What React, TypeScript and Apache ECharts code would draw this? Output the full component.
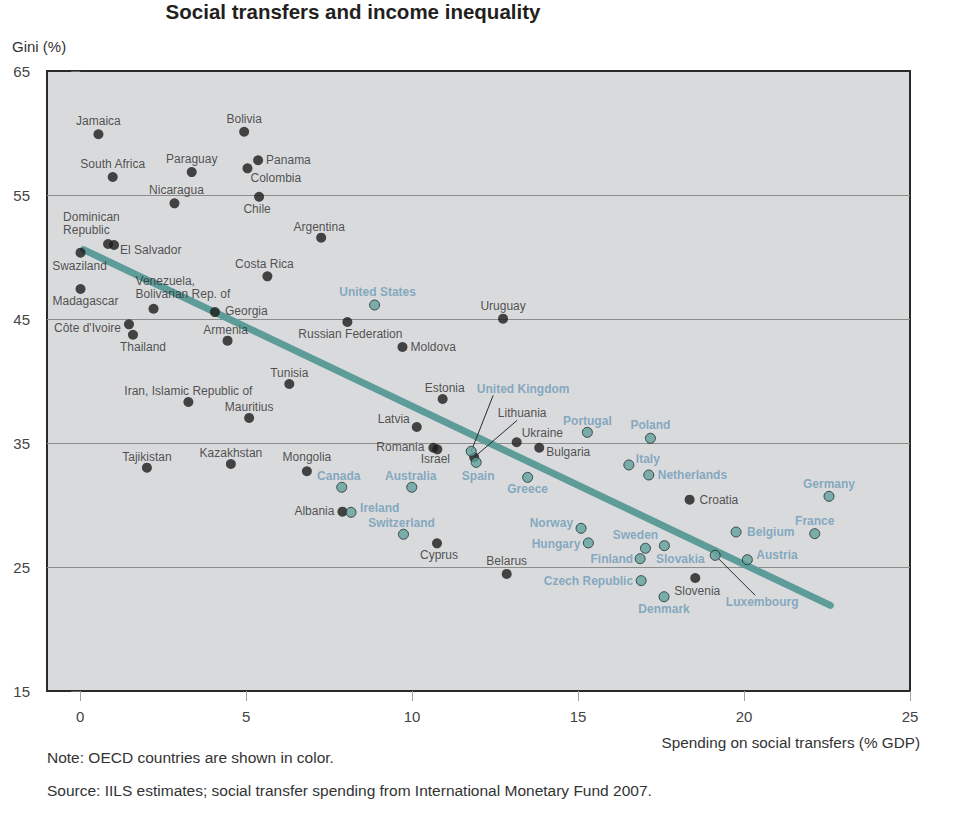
import React, { useEffect, useRef } from "react";
import * as echarts from "echarts";

// Non-OECD countries
const otherNames = [
  "Jamaica", "Bolivia", "South Africa", "Paraguay", "Panama", "Colombia", "Nicaragua", "Chile",
  "Dominican\nRepublic", "El Salvador", "Argentina", "Swaziland", "Costa Rica", "Madagascar",
  "Venezuela,\nBolivarian Rep. of", "Georgia", "Côte d'Ivoire", "Thailand", "Armenia",
  "Russian Federation", "Uruguay", "Moldova", "Tunisia", "Estonia", "Iran, Islamic Republic of",
  "Mauritius", "Latvia", "Tajikistan", "Kazakhstan", "Mongolia", "Albania", "Romania", "Israel",
  "Lithuania", "Ukraine", "Bulgaria", "Cyprus", "Belarus", "Croatia", "Slovenia",
];
const otherX = [
  0.55, 4.94, 0.98, 3.36, 5.36, 5.04, 2.84, 5.39,
  0.84, 1.02, 7.26, 0.01, 5.64, 0.01,
  2.21, 4.06, 1.47, 1.59, 4.44,
  8.05, 12.74, 9.71, 6.30, 10.92, 3.26,
  5.09, 10.14, 2.01, 4.54, 6.83, 7.90, 10.64, 10.76,
  11.87, 13.15, 13.83, 10.75, 12.85, 18.36, 18.53,
];
const otherY = [
  59.9, 60.1, 56.45, 56.85, 57.8, 57.15, 54.33, 54.86,
  51.05, 50.97, 51.56, 50.35, 48.44, 47.42,
  45.83, 45.56, 44.57, 43.73, 43.25,
  44.76, 45.03, 42.74, 39.76, 38.55, 38.31,
  37.02, 36.29, 33.01, 33.31, 32.72, 29.46, 34.62, 34.49,
  33.85, 35.06, 34.62, 26.91, 24.44, 30.43, 24.11,
];

// OECD countries
const oecdNames = [
  "United States", "United Kingdom", "Spain", "Canada", "Australia", "Ireland", "Switzerland",
  "Portugal", "Poland", "Italy", "Netherlands", "Greece", "Norway", "Hungary", "Sweden",
  "Finland", "Slovakia", "Czech Republic", "Denmark", "Luxembourg", "Austria", "Belgium",
  "France", "Germany",
];
const oecdX = [
  8.87, 11.78, 11.93, 7.88, 9.99, 8.16, 9.74,
  15.28, 17.18, 16.53, 17.13, 13.48, 15.09, 15.31, 17.03,
  16.87, 17.60, 16.90, 17.59, 19.13, 20.10, 19.76,
  22.13, 22.56,
];
const oecdY = [
  46.13, 34.33, 33.44, 31.43, 31.43, 29.41, 27.64,
  35.86, 35.38, 33.23, 32.42, 32.23, 28.12, 26.94, 26.51,
  25.67, 26.72, 23.90, 22.60, 25.94, 25.59, 27.82,
  27.69, 30.70,
];

// Fitted line endpoints
const trendX = [0.1, 22.6];
const trendY = [50.6, 21.9];

// Axis ticks
const xTicks = [0, 5, 10, 15, 20, 25];
const yTicks = [15, 25, 35, 45, 55, 65];
const yGridLines = [25, 35, 45, 55];

// Label placement relative to the dot centre: [dx, dy, align]
const labelPlace: Record<string, [number, number, string]> = {
  "Jamaica": [0, -13, "center"],
  "Bolivia": [0, -13, "center"],
  "South Africa": [0, -13, "center"],
  "Paraguay": [0, -13, "center"],
  "Panama": [8, 0, "left"],
  "Colombia": [3, 10, "left"],
  "Nicaragua": [2, -13, "center"],
  "Chile": [-2, 12, "center"],
  "Dominican\nRepublic": [-45, -20, "left"],
  "El Salvador": [6, 5, "left"],
  "Argentina": [-2, -11, "center"],
  "Swaziland": [-1, 13, "center"],
  "Costa Rica": [-3, -12, "center"],
  "Madagascar": [5, 12, "center"],
  "Venezuela,\nBolivarian Rep. of": [-18, -21, "left"],
  "Georgia": [10, -1, "left"],
  "Côte d'Ivoire": [-8, 4, "right"],
  "Thailand": [10, 12, "center"],
  "Armenia": [-2, -11, "center"],
  "Russian Federation": [3, 12, "center"],
  "Uruguay": [0, -13, "center"],
  "Moldova": [8, 0, "left"],
  "Tunisia": [0, -11, "center"],
  "Estonia": [2, -11, "center"],
  "Iran, Islamic Republic of": [0, -11, "center"],
  "Mauritius": [0, -11, "center"],
  "Latvia": [-7, -8, "right"],
  "Tajikistan": [0, -11, "center"],
  "Kazakhstan": [0, -11, "center"],
  "Mongolia": [0, -14, "center"],
  "Albania": [-8, -1, "right"],
  "Romania": [-9, -1, "right"],
  "Israel": [-2, 10, "center"],
  "Lithuania": [48, -44, "center"],
  "Ukraine": [5, -9, "left"],
  "Bulgaria": [7, 4, "left"],
  "Cyprus": [2, 12, "center"],
  "Belarus": [0, -13, "center"],
  "Croatia": [10, 0, "left"],
  "Slovenia": [2, 13, "center"],
  "United States": [3, -13, "center"],
  "United Kingdom": [52, -62, "center"],
  "Spain": [2, 14, "center"],
  "Canada": [-3, -11, "center"],
  "Australia": [-1, -11, "center"],
  "Ireland": [9, -4, "left"],
  "Switzerland": [-2, -11, "center"],
  "Portugal": [0, -11, "center"],
  "Poland": [0, -13, "center"],
  "Italy": [7, -6, "left"],
  "Netherlands": [9, 0, "left"],
  "Greece": [0, 12, "center"],
  "Norway": [-8, -5, "right"],
  "Hungary": [-8, 1, "right"],
  "Sweden": [-10, -13, "center"],
  "Finland": [-7, 0, "right"],
  "Slovakia": [16, 13, "center"],
  "Czech Republic": [-8, 0, "right"],
  "Denmark": [0, 12, "center"],
  "Luxembourg": [47, 47, "center"],
  "Austria": [9, -5, "left"],
  "Belgium": [11, 0, "left"],
  "France": [0, -13, "center"],
  "Germany": [0, -12, "center"],
};

// Leader lines: country and the pixel offset of the line's far end from the dot
const leaderNames = ["United Kingdom", "Lithuania", "Luxembourg"];
const leaderEnd: Record<string, [number, number]> = {
  "United Kingdom": [22, -56],
  "Lithuania": [43, -37],
  "Luxembourg": [40, 40],
};

const FONT = "'Liberation Sans', Arial, Helvetica, sans-serif";

export default function App() {
  const ref = useRef<HTMLDivElement>(null);

  useEffect(() => {
    if (!ref.current) return;
    const chart = echarts.init(ref.current, undefined, { renderer: "svg" });

    const makeData = (names: string[], xs: number[], ys: number[]) =>
      names.map((n, i) => ({ name: n, value: [xs[i], ys[i]] }));

    const layoutFor = (names: string[]) => (p: any) => {
      const n = names[p.dataIndex];
      const pl = labelPlace[n] || [0, -12, "center"];
      const cx = p.rect.x + p.rect.width / 2;
      const cy = p.rect.y + p.rect.height / 2;
      return { x: cx + pl[0], y: cy + pl[1], align: pl[2], verticalAlign: "middle" };
    };

    const leaderData = leaderNames.map((n) => {
      let i = oecdNames.indexOf(n);
      if (i >= 0) return { name: n, value: [oecdX[i], oecdY[i]] };
      i = otherNames.indexOf(n);
      return { name: n, value: [otherX[i], otherY[i]] };
    });

    const option: any = {
      animation: false,
      backgroundColor: "#ffffff",
      textStyle: { fontFamily: FONT },
      grid: {
        left: 47,
        right: 65,
        top: 71,
        bottom: 140,
        show: true,
        backgroundColor: "#d9dadc",
        borderColor: "#2a2a2a",
        borderWidth: 2,
      },
      xAxis: {
        type: "value",
        min: -1,
        max: 25,
        axisLine: { show: false },
        splitLine: { show: false },
        axisTick: {
          show: true,
          customValues: xTicks,
          length: 10,
          lineStyle: { color: "#a0a0a0", width: 1 },
        },
        axisLabel: {
          customValues: xTicks,
          margin: 18,
          fontSize: 15,
          color: "#444",
          fontFamily: FONT,
        },
      },
      yAxis: {
        type: "value",
        min: 15,
        max: 65,
        axisLine: { show: false },
        splitLine: { show: false },
        axisTick: {
          show: true,
          customValues: yTicks,
          length: 9,
          lineStyle: { color: "#666", width: 1 },
        },
        axisLabel: {
          customValues: yTicks,
          margin: 17,
          fontSize: 15,
          color: "#444",
          fontFamily: FONT,
        },
      },
      series: [
        {
          type: "scatter",
          data: [],
          z: 1,
          silent: true,
          markLine: {
            silent: true,
            z: 1,
            symbol: ["none", "none"],
            label: { show: false },
            lineStyle: { color: "#8c8c8c", width: 1, type: "solid" },
            emphasis: { disabled: true },
            data: yGridLines.map((v) => ({ yAxis: v })),
          },
        },
        {
          type: "line",
          z: 2,
          silent: true,
          symbol: "none",
          data: trendX.map((x, i) => [x, trendY[i]]),
          lineStyle: { color: "#5e9c99", width: 7, cap: "round" },
        },
        {
          type: "custom",
          coordinateSystem: "cartesian2d",
          z: 3,
          silent: true,
          data: leaderData,
          renderItem: (params: any, api: any) => {
            const p = api.coord([api.value(0), api.value(1)]);
            const off = leaderEnd[leaderNames[params.dataIndex]];
            return {
              type: "line",
              shape: { x1: p[0], y1: p[1], x2: p[0] + off[0], y2: p[1] + off[1] },
              style: { stroke: "#2b2b2b", lineWidth: 1 },
            };
          },
        },
        {
          type: "scatter",
          z: 4,
          silent: true,
          symbol: "circle",
          symbolSize: 10,
          itemStyle: { color: "#1b1b1b" },
          data: makeData(otherNames, otherX, otherY),
          label: {
            show: true,
            formatter: "{b}",
            fontSize: 12,
            lineHeight: 13,
            color: "#2b2b2b",
            fontFamily: FONT,
          },
          labelLayout: layoutFor(otherNames),
        },
        {
          type: "scatter",
          z: 5,
          silent: true,
          symbol: "circle",
          symbolSize: 10,
          itemStyle: { color: "#62a09e", borderColor: "#1f2b2b", borderWidth: 1 },
          data: makeData(oecdNames, oecdX, oecdY),
          label: {
            show: true,
            formatter: "{b}",
            fontSize: 12,
            fontWeight: "bold",
            color: "#6d9bb8",
            fontFamily: FONT,
          },
          labelLayout: layoutFor(oecdNames),
        },
      ],
      graphic: [
        {
          type: "text",
          x: 353,
          y: 11,
          style: {
            text: "Social transfers and income inequality",
            font: "bold 20.5px " + FONT,
            fill: "#231f20",
            textAlign: "center",
            textVerticalAlign: "middle",
          },
        },
        {
          type: "text",
          x: 12,
          y: 46,
          style: {
            text: "Gini (%)",
            font: "15px " + FONT,
            fill: "#333",
            textAlign: "left",
            textVerticalAlign: "middle",
          },
        },
        {
          type: "text",
          x: 920,
          y: 742,
          style: {
            text: "Spending on social transfers (% GDP)",
            font: "15.3px " + FONT,
            fill: "#333",
            textAlign: "right",
            textVerticalAlign: "middle",
          },
        },
        {
          type: "text",
          x: 47,
          y: 757,
          style: {
            text: "Note: OECD countries are shown in color.",
            font: "15.5px " + FONT,
            fill: "#333",
            textAlign: "left",
            textVerticalAlign: "middle",
          },
        },
        {
          type: "text",
          x: 47,
          y: 790,
          style: {
            text: "Source: IILS estimates; social transfer spending from International Monetary Fund 2007.",
            font: "15.5px " + FONT,
            fill: "#333",
            textAlign: "left",
            textVerticalAlign: "middle",
          },
        },
      ],
    };

    chart.setOption(option);
    return () => chart.dispose();
  }, []);

  return (
    <div
      ref={ref}
      style={{ position: "absolute", left: 0, top: 0, width: 975, height: 831 }}
    />
  );
}
